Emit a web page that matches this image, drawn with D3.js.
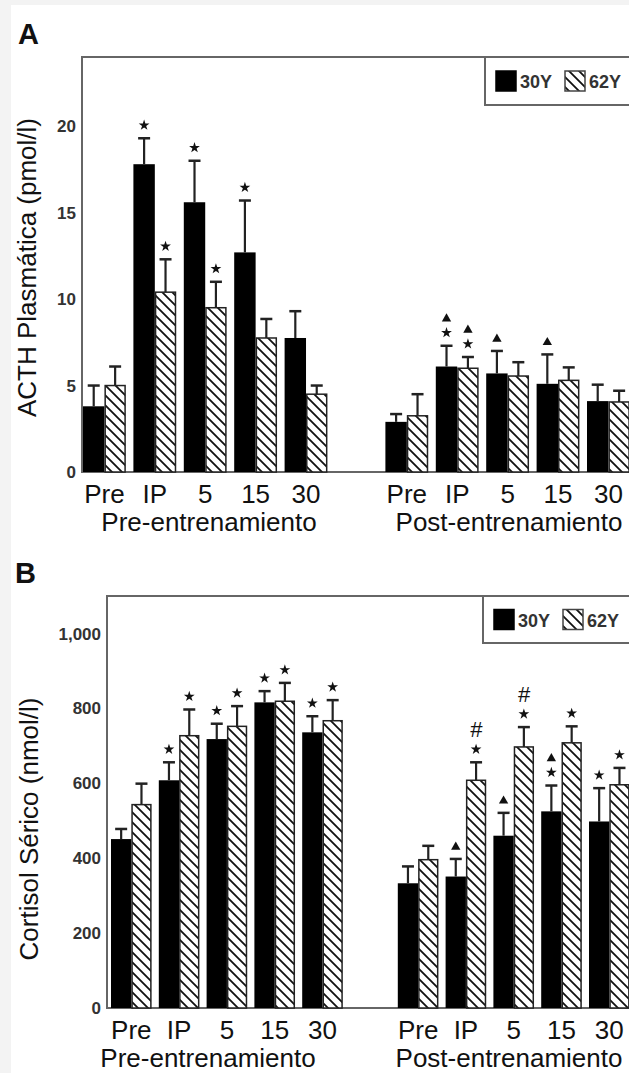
<!DOCTYPE html>
<html>
<head>
<meta charset="utf-8">
<title></title>
<script src="https://cdn.jsdelivr.net/npm/d3@7"></script>
<style>
  body { margin: 0; background: #f3f3f3; }
  text { font-family: "Liberation Sans", Arial, sans-serif; }
</style>
</head>
<body>
<script>
// categories / series
const categories = ['Pre', 'IP', '5', '15', '30'];
const phases = ['Pre-entrenamiento', 'Post-entrenamiento'];
const series = ['30Y', '62Y'];

// A: ACTH plasmatica (pmol/l)
const acthPre30 = [3.8, 17.8, 15.6, 12.7, 7.75];
const acthPre30Err = [1.2, 1.5, 2.4, 3.0, 1.55];
const acthPre62 = [5.0, 10.4, 9.5, 7.75, 4.5];
const acthPre62Err = [1.1, 1.9, 1.5, 1.1, 0.5];
const acthPost30 = [2.9, 6.1, 5.7, 5.1, 4.1];
const acthPost30Err = [0.45, 1.2, 1.3, 1.7, 0.95];
const acthPost62 = [3.25, 6.0, 5.55, 5.3, 4.05];
const acthPost62Err = [1.25, 0.65, 0.8, 0.75, 0.65];
const acthTicks = [0, 5, 10, 15, 20];
// marks above bars, bottom to top: * star, ^ triangle, # hash (pre x5, post x5)
const acthSig30 = ['', '*', '*', '*', '', '', '*^', '^', '^', ''];
const acthSig62 = ['', '*', '*', '', '', '', '*^', '', '', ''];

// B: cortisol serico (nmol/l)
const cortPre30 = [451, 608, 718, 816, 736];
const cortPre30Err = [27, 48, 41, 30, 43];
const cortPre62 = [543, 727, 752, 819, 767];
const cortPre62Err = [56, 70, 54, 49, 55];
const cortPost30 = [333, 351, 460, 525, 498];
const cortPost30Err = [45, 47, 61, 69, 89];
const cortPost62 = [396, 608, 697, 708, 596];
const cortPost62Err = [37, 48, 53, 44, 45];
const cortTicks = [0, 200, 400, 600, 800, 1000];
const cortSig30 = ['', '*', '*', '*', '*', '', '^', '^', '*^', '*'];
const cortSig62 = ['', '*', '*', '*', '*', '', '*#', '*#', '*', '*'];

const W = 629, H = 1073;
const svg = d3.select('body').append('svg').attr('width', W).attr('height', H);

svg.append('rect').attr('x', 11).attr('y', 5).attr('width', W).attr('height', H).attr('fill', '#fff');

// hatch
const defs = svg.append('defs');
const pat = defs.append('pattern').attr('id', 'hatch')
  .attr('patternUnits', 'userSpaceOnUse').attr('width', 10).attr('height', 10);
pat.append('rect').attr('width', 10).attr('height', 10).attr('fill', '#fff');
pat.append('path').attr('d', 'M0,0L10,10M-2,8L2,12M8,-2L12,2')
  .attr('stroke', '#111').attr('stroke-width', 1.8);

const star = d3.symbol().type(d3.symbolStar).size(36)();
const tri = d3.symbol().type(d3.symbolTriangle).size(38)();

function drawPanel(p) {
  const g = svg.append('g');

  const y = d3.scaleLinear().domain([0, p.yMax]).range([p.bottom, p.top]);
  const x = d3.scaleBand().domain(d3.range(11)).range([p.barStart, p.barStart + p.step * 10.85])
    .paddingInner(0.15).paddingOuter(0);
  const xs = d3.scaleBand().domain(series).range([0, x.bandwidth()]);

  // frame
  g.append('path')
    .attr('d', `M${W + 20},${p.top}H${p.left}V${p.bottom}H${W + 20}`)
    .attr('fill', 'none').attr('stroke', '#666').attr('stroke-width', 2);

  // rows: one per bar
  const rows = [];
  [0, 1].forEach(ph => {
    categories.forEach((c, i) => {
      series.forEach((s, si) => {
        const key = (ph === 0 ? 'pre' : 'post') + s;
        rows.push({
          slot: ph * 6 + i, s, si,
          v: p.vals[key][i], e: p.errs[key][i],
          sig: p.sig[s][ph * 5 + i]
        });
      });
    });
  });

  rows.forEach(d => {
    const bx = x(d.slot) + xs(d.s);
    const bw = xs.bandwidth();
    const cx = bx + bw / 2;
    g.append('rect')
      .attr('x', bx + (d.si ? 0.75 : 0)).attr('y', y(d.v))
      .attr('width', bw - (d.si ? 1.5 : 0)).attr('height', p.bottom - y(d.v))
      .attr('fill', d.si ? 'url(#hatch)' : '#000')
      .attr('stroke', d.si ? '#222' : 'none').attr('stroke-width', 1.5);

    const et = y(d.v + d.e);
    g.append('line').attr('x1', cx).attr('x2', cx).attr('y1', y(d.v)).attr('y2', et)
      .attr('stroke', '#222').attr('stroke-width', 2.2);
    g.append('line').attr('x1', cx - 6).attr('x2', cx + 6).attr('y1', et).attr('y2', et)
      .attr('stroke', '#222').attr('stroke-width', 2.5);

    let my = et - 13;
    (d.sig || '').split('').forEach(ch => {
      if (ch === '*') {
        g.append('path').attr('d', star).attr('transform', `translate(${cx},${my})`).attr('fill', '#111');
        my -= 15;
      } else if (ch === '^') {
        g.append('path').attr('d', tri).attr('transform', `translate(${cx},${my + 1})`).attr('fill', '#111');
        my -= 15;
      } else if (ch === '#') {
        g.append('text').attr('x', cx).attr('y', my + 3).attr('text-anchor', 'middle')
          .attr('font-size', 22).attr('font-style', 'italic').attr('fill', '#111').text('#');
        my -= 20;
      }
    });
  });

  // y tick labels
  g.selectAll('.yt').data(p.ticks).enter().append('text')
    .attr('x', p.left - 6).attr('y', d => y(d)).attr('dy', '0.36em')
    .attr('text-anchor', 'end').attr('font-size', 17).attr('font-weight', 'bold')
    .attr('fill', '#333').text(d3.format(','));

  // x tick labels
  [0, 1].forEach(ph => {
    categories.forEach((c, i) => {
      g.append('text').attr('x', x(ph * 6 + i) + x.bandwidth() / 2).attr('y', p.bottom + 31)
        .attr('text-anchor', 'middle').attr('font-size', 26).attr('fill', '#111').text(c);
    });
    g.append('text').attr('x', p.phaseX[ph]).attr('y', p.bottom + 59)
      .attr('text-anchor', 'middle').attr('font-size', 26).attr('fill', '#111').text(phases[ph]);
  });

  // axis title
  g.append('text')
    .attr('transform', `translate(${p.titleX},${(p.top + p.bottom) / 2 + p.titleDy}) rotate(-90)`)
    .attr('text-anchor', 'middle').attr('font-size', 26).attr('fill', '#111').text(p.title);

  // panel letter
  g.append('text').attr('x', p.letterX).attr('y', p.letterY)
    .attr('font-size', 29).attr('font-weight', 'bold').attr('fill', '#111').text(p.letter);

  // legend
  const lg = g.append('g').attr('transform', `translate(${p.legX},${p.top})`);
  lg.append('rect').attr('x', 0).attr('y', 0).attr('width', 200).attr('height', p.legH)
    .attr('fill', '#fff').attr('stroke', '#666').attr('stroke-width', 2);
  series.forEach((s, si) => {
    const ox = 11 + si * 69;
    lg.append('rect').attr('x', ox).attr('y', p.legH / 2 - 10).attr('width', 20).attr('height', 20)
      .attr('fill', si ? 'url(#hatch)' : '#000').attr('stroke', si ? '#444' : '#000').attr('stroke-width', 1.5);
    lg.append('text').attr('x', ox + 24).attr('y', p.legH / 2 + 7)
      .attr('font-size', 18).attr('font-weight', 'bold').attr('fill', '#333').text(s);
  });
}

drawPanel({
  letter: 'A', letterX: 18, letterY: 44,
  top: 57, bottom: 472, left: 82, yMax: 24, ticks: acthTicks,
  barStart: 83, step: 50.4, phaseX: [209, 509],
  title: 'ACTH Plasmática (pmol/l)', titleX: 36, titleDy: 3,
  legX: 485, legH: 48,
  vals: { pre30Y: acthPre30, pre62Y: acthPre62, post30Y: acthPost30, post62Y: acthPost62 },
  errs: { pre30Y: acthPre30Err, pre62Y: acthPre62Err, post30Y: acthPost30Err, post62Y: acthPost62Err },
  sig: { '30Y': acthSig30, '62Y': acthSig62 }
});

drawPanel({
  letter: 'B', letterX: 15, letterY: 583,
  top: 596, bottom: 1008, left: 107, yMax: 1100, ticks: cortTicks,
  barStart: 111, step: 47.8, phaseX: [208, 509],
  title: 'Cortisol Sérico (nmol/l)', titleX: 38, titleDy: 27,
  legX: 483, legH: 47,
  vals: { pre30Y: cortPre30, pre62Y: cortPre62, post30Y: cortPost30, post62Y: cortPost62 },
  errs: { pre30Y: cortPre30Err, pre62Y: cortPre62Err, post30Y: cortPost30Err, post62Y: cortPost62Err },
  sig: { '30Y': cortSig30, '62Y': cortSig62 }
});
</script>
</body>
</html>
